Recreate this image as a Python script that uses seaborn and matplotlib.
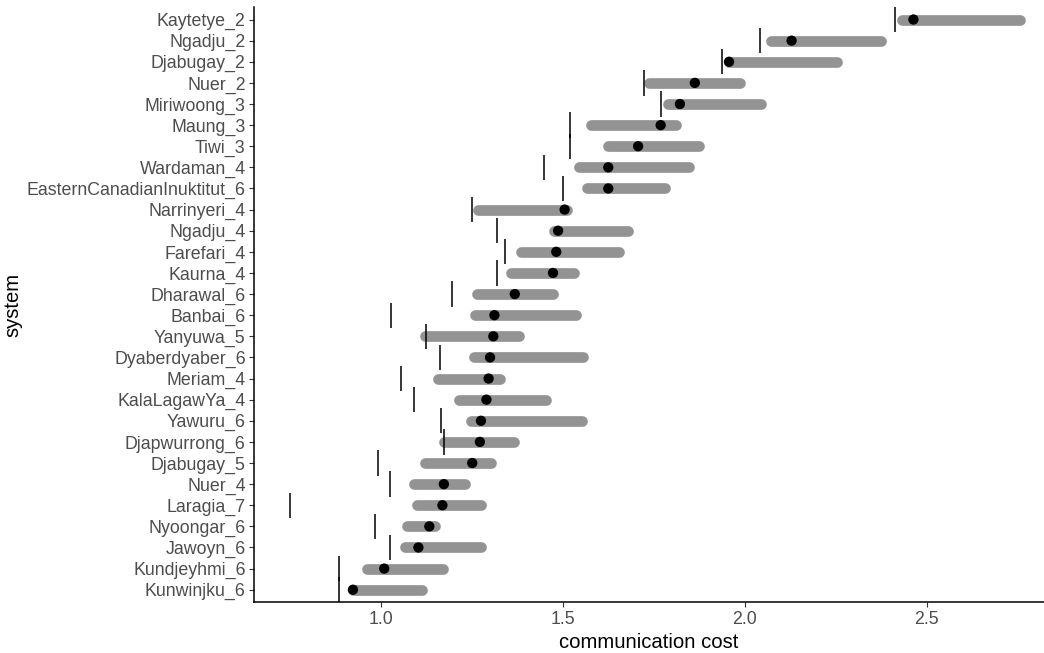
import matplotlib
matplotlib.use("Agg")
import matplotlib.pyplot as plt
import seaborn as sns
import pandas as pd

# systems from top to bottom
systems = ["Kaytetye_2", "Ngadju_2", "Djabugay_2", "Nuer_2", "Miriwoong_3",
           "Maung_3", "Tiwi_3", "Wardaman_4", "EasternCanadianInuktitut_6",
           "Narrinyeri_4", "Ngadju_4", "Farefari_4", "Kaurna_4", "Dharawal_6",
           "Banbai_6", "Yanyuwa_5", "Dyaberdyaber_6", "Meriam_4",
           "KalaLagawYa_4", "Yawuru_6", "Djapwurrong_6", "Djabugay_5",
           "Nuer_4", "Laragia_7", "Nyoongar_6", "Jawoyn_6", "Kundjeyhmi_6",
           "Kunwinjku_6"]

# vertical reference mark per system
optimal = [2.412, 2.041, 1.939, 1.722, 1.770, 1.521, 1.521, 1.448, 1.501,
           1.250, 1.320, 1.342, 1.318, 1.195, 1.029, 1.124, 1.161, 1.055,
           1.090, 1.164, 1.174, 0.992, 1.024, 0.749, 0.985, 1.024, 0.884,
           0.884]

# range of the grey band
range_low = [2.432, 2.072, 1.956, 1.738, 1.788, 1.578, 1.623, 1.545, 1.567,
             1.267, 1.477, 1.386, 1.358, 1.265, 1.258, 1.122, 1.255, 1.157,
             1.215, 1.248, 1.174, 1.122, 1.092, 1.098, 1.073, 1.067, 0.962,
             0.923]
range_high = [2.758, 2.376, 2.255, 1.988, 2.044, 1.811, 1.874, 1.848, 1.780,
              1.511, 1.679, 1.654, 1.532, 1.474, 1.537, 1.379, 1.555, 1.328,
              1.455, 1.553, 1.367, 1.302, 1.232, 1.275, 1.149, 1.275, 1.170,
              1.114]

# black point (actual system)
actual = [2.464, 2.129, 1.957, 1.863, 1.822, 1.769, 1.707, 1.625, 1.625,
          1.505, 1.487, 1.482, 1.473, 1.368, 1.312, 1.309, 1.300, 1.296,
          1.290, 1.275, 1.272, 1.251, 1.173, 1.169, 1.133, 1.103, 1.009,
          0.923]

df = pd.DataFrame({"system": systems, "optimal": optimal, "low": range_low,
                   "high": range_high, "actual": actual})
df["pos"] = range(len(df))

sns.set_theme(style="ticks")
plt.rcParams["font.family"] = ["Liberation Sans", "DejaVu Sans"]

fig = plt.figure(figsize=(10.44, 6.53), dpi=100)
ax = fig.add_axes([0.2433, 0.0775, 0.7567, 0.912])

# grey bands
ax.hlines(df["pos"], df["low"], df["high"], color="#939393", linewidth=7.7,
          capstyle="round", zorder=1)
# reference marks
ax.vlines(df["optimal"], df["pos"] - 0.6, df["pos"] + 0.6, color="black",
          linewidth=1.1, zorder=2)
# actual points
sns.scatterplot(data=df, x="actual", y="pos", color="black", s=55,
                edgecolor="none", zorder=3, ax=ax)

ax.set_yticks(df["pos"])
ax.set_yticklabels(df["system"])
ax.set_ylim(len(df) - 1 + 0.6, -0.6)
ax.set_xlim(0.651, 2.823)
ax.set_xticks([1.0, 1.5, 2.0, 2.5])
ax.set_xticklabels(["1.0", "1.5", "2.0", "2.5"])

ax.set_xlabel("communication cost", fontsize=14.6, color="black", labelpad=4)
ax.set_ylabel("system", fontsize=14.6, color="black", labelpad=3)
ax.tick_params(axis="both", labelsize=12.8, labelcolor="#4d4d4d",
               color="#333333", length=3.5, width=0.8, pad=2.5)
for side in ["top", "right"]:
    ax.spines[side].set_visible(False)
for side in ["left", "bottom"]:
    ax.spines[side].set_color("black")
    ax.spines[side].set_linewidth(1.1)

fig.savefig("out.png", dpi=100)
